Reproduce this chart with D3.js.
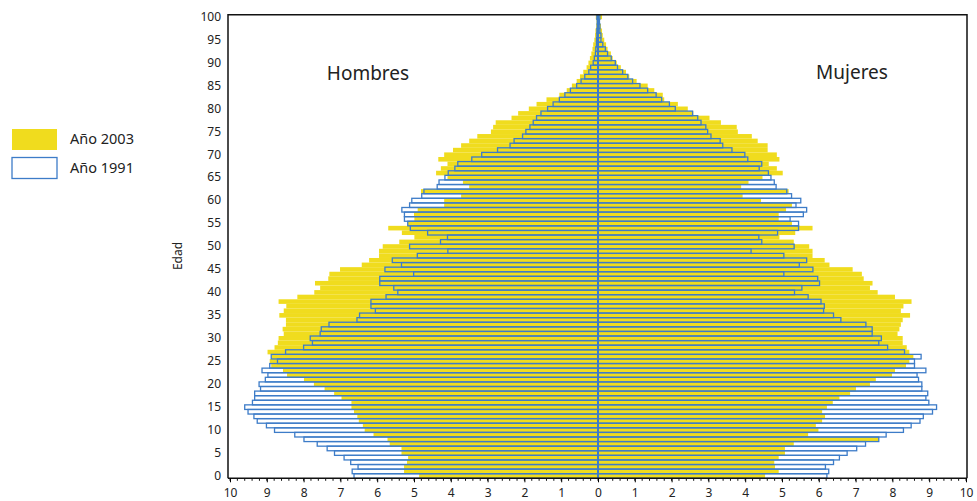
<!DOCTYPE html>
<html>
<head>
<meta charset="utf-8">
<script src="https://cdn.jsdelivr.net/npm/d3@7"></script>
<style>
  body { margin: 0; background: #fff; }
  svg { display: block; font-family: "Noto Sans", sans-serif; }
</style>
</head>
<body>
<div id="pyramid"></div>
<script>
// edades 0..100
var ages = d3.range(0, 101)

// Hombres, año 2003 (por mil)
var hombres2003 = [4.86,5.27,5.27,5.19,5.16,5.34,5.34,5.66,5.72,6.10,
  6.34,6.39,6.50,6.54,6.63,6.70,6.70,6.97,7.17,7.43,
  7.72,7.99,8.45,8.56,8.88,8.92,8.88,8.98,8.79,8.70,
  8.68,8.54,8.57,8.48,8.48,8.66,8.54,8.47,8.68,8.17,
  7.71,7.55,7.69,7.33,7.30,7.01,6.42,6.22,5.95,5.95,
  5.85,5.40,4.99,5.33,5.70,5.17,4.99,5.00,4.90,4.18,
  4.18,3.72,4.81,3.50,3.67,4.09,4.40,4.27,4.09,4.34,
  4.18,3.94,3.72,3.50,3.28,2.91,2.85,2.78,2.35,2.17,
  1.88,1.67,1.40,1.05,0.85,0.71,0.58,0.49,0.40,0.31,
  0.26,0.22,0.18,0.15,0.13,0.10,0.08,0.07,0.05,0.04,
  0.06]

// Hombres, año 1991
var hombres1991 = [6.63,6.68,6.52,6.72,6.90,7.16,7.36,7.63,7.99,8.24,
  8.79,9.01,9.26,9.35,9.51,9.60,9.39,9.33,9.33,9.17,
  9.21,9.04,8.97,9.13,8.92,8.71,8.88,8.49,8.00,7.76,
  7.82,7.55,7.52,7.31,6.55,6.48,6.05,6.17,6.17,5.76,
  5.44,5.55,5.93,5.93,5.01,5.79,5.34,5.59,4.91,4.08,
  5.12,4.28,4.09,4.63,5.10,5.17,5.26,5.26,5.33,5.12,
  5.06,4.79,4.73,4.37,4.32,4.16,4.07,3.89,3.81,3.43,
  3.16,2.73,2.39,2.28,2.05,1.96,1.85,1.76,1.67,1.55,
  1.37,1.22,1.05,0.90,0.75,0.58,0.46,0.36,0.25,0.20,
  0.13,0.10,0.07,0.06,0.04,0.04,0.03,0.03,0.02,0.02,
  0.03]

// Mujeres, año 2003
var mujeres2003 = [4.54,4.91,4.81,4.79,4.91,5.08,5.08,5.32,7.63,5.71,
  5.99,5.92,6.09,6.17,6.09,6.22,6.38,6.56,6.85,7.01,
  7.39,7.55,7.99,8.07,8.37,8.46,8.57,8.46,8.39,8.28,
  8.28,8.14,8.19,8.23,8.28,8.48,8.23,8.30,8.52,8.07,
  7.60,7.39,7.46,7.22,7.17,6.92,6.29,6.16,5.83,5.83,
  5.74,5.32,4.93,5.36,5.83,5.27,4.91,4.91,5.11,5.27,
  4.43,3.93,5.18,3.89,4.09,4.47,5.02,4.86,4.64,4.93,
  4.86,4.61,4.61,4.34,4.18,3.80,3.77,3.34,3.03,2.59,
  2.44,2.17,1.80,1.76,1.53,1.35,1.05,0.85,0.76,0.62,
  0.51,0.40,0.35,0.26,0.22,0.17,0.13,0.11,0.08,0.05,
  0.11]

// Mujeres, año 1991
var mujeres1991 = [6.22,6.27,6.18,6.40,6.56,6.77,7.03,7.27,7.63,7.83,
  8.30,8.51,8.75,8.84,9.09,9.20,8.99,8.91,8.96,8.80,
  8.80,8.71,8.67,8.91,8.60,8.60,8.78,8.33,7.87,7.63,
  7.70,7.45,7.45,7.28,6.60,6.40,6.13,6.15,6.06,5.71,
  5.34,5.54,6.02,5.97,5.05,5.84,5.47,5.67,5.05,4.16,
  5.33,4.45,4.37,4.88,5.45,5.45,5.22,5.58,5.67,5.38,
  5.51,5.26,5.13,4.84,4.79,4.70,4.63,4.38,4.45,4.07,
  3.99,3.64,3.39,3.32,3.07,2.98,2.93,2.80,2.71,2.57,
  2.10,1.94,1.73,1.58,1.35,1.14,0.94,0.81,0.67,0.53,
  0.47,0.36,0.26,0.20,0.13,0.08,0.08,0.05,0.05,0.04,
  0.05]

var xTicks = d3.range(-10, 11)
var ageTicks = ages.filter(function(a){ return a % 5 == 0 })

function piramide(){

var width = 977
var height = 501

var pLeft = 230, pRight = 966, pTop = 14.7, pBottom = 478.3
var mid = (pLeft + pRight) / 2

var yellow = "#f0dc1e"
var blue = "#3d7cc8"

var svg = d3.select("#pyramid")
  .append("svg")
  .attr("width", width)
  .attr("height", height)

var x = d3.scaleLinear().domain([-10, 10]).range([pLeft, pRight])
var xL = function(v){ return x(-v) }
var xR = function(v){ return x(v) }

var y = d3.scaleBand().domain(ages).range([pBottom, pTop]).padding(0)
var bh = y.bandwidth()

// barras 2003 (relleno amarillo)
svg.append("g").selectAll("rect")
  .data(ages)
  .enter()
  .append("rect")
  .attr("x", function(d){ return xL(hombres2003[d]) })
  .attr("y", function(d){ return y(d) })
  .attr("width", function(d){ return mid - xL(hombres2003[d]) })
  .attr("height", bh)
  .attr("fill", yellow)

svg.append("g").selectAll("rect")
  .data(ages)
  .enter()
  .append("rect")
  .attr("x", mid)
  .attr("y", function(d){ return y(d) })
  .attr("width", function(d){ return xR(mujeres2003[d]) - mid })
  .attr("height", bh)
  .attr("fill", yellow)

// barras 1991 (solo contorno azul)
svg.append("g").selectAll("rect")
  .data(ages)
  .enter()
  .append("rect")
  .attr("x", function(d){ return xL(hombres1991[d]) })
  .attr("y", function(d){ return y(d) })
  .attr("width", function(d){ return mid - xL(hombres1991[d]) })
  .attr("height", bh)
  .attr("fill", "none")
  .style("stroke", blue)
  .style("stroke-width", 1.3)

svg.append("g").selectAll("rect")
  .data(ages)
  .enter()
  .append("rect")
  .attr("x", mid)
  .attr("y", function(d){ return y(d) })
  .attr("width", function(d){ return xR(mujeres1991[d]) - mid })
  .attr("height", bh)
  .attr("fill", "none")
  .style("stroke", blue)
  .style("stroke-width", 1.3)

// linea central
svg.append("line")
  .attr("x1", mid).attr("x2", mid)
  .attr("y1", pTop).attr("y2", pBottom)
  .style("stroke", blue)
  .style("stroke-width", 2)

// marco
svg.append("path")
  .attr("d", "M" + (pLeft - 2) + "," + pBottom + "V" + pTop + "H" + (pRight + 1) + "V" + pBottom)
  .attr("fill", "none")
  .style("stroke", "#111")
  .style("stroke-width", 1.5)

// eje x: marcas menores cada 0.2
var minor = d3.range(-10, 10.001, 0.2)
svg.append("g").selectAll("line")
  .data(minor)
  .enter()
  .append("line")
  .attr("x1", function(d){ return x(d) }).attr("x2", function(d){ return x(d) })
  .attr("y1", pBottom).attr("y2", pBottom + 2.5)
  .style("stroke", "#111")

var xAxis = d3.axisBottom(x)
  .tickValues(xTicks)
  .tickSize(4)
  .tickPadding(6)
  .tickFormat(function(d){ return Math.abs(d) })

var gx = svg.append("g")
  .attr("transform", "translate(0," + pBottom + ")")
  .call(xAxis)
gx.select(".domain").attr("d", "M" + (pLeft - 2) + ",0H" + (pRight + 1)).style("stroke", "#111").style("stroke-width", 1.5)
gx.selectAll("text").style("font-size", "12px").style("fill", "#222").style("font-family", "Noto Sans")

// eje y: edades
var yAxis = d3.axisLeft(y)
  .tickValues(ageTicks)
  .tickSize(0)
  .tickPadding(8)

var gy = svg.append("g")
  .attr("transform", "translate(" + (pLeft - 1) + ",0)")
  .call(yAxis)
gy.select(".domain").remove()
gy.selectAll("text").style("font-size", "12px").style("fill", "#222").style("font-family", "Noto Sans")

svg.append("text")
  .attr("transform", "translate(182,256) rotate(-90)")
  .attr("text-anchor", "middle")
  .style("font-size", "12px")
  .style("fill", "#222")
  .text("Edad")

svg.append("text")
  .attr("x", 368).attr("y", 80)
  .attr("text-anchor", "middle")
  .style("font-size", "19px")
  .style("fill", "#222")
  .text("Hombres")

svg.append("text")
  .attr("x", 852).attr("y", 79)
  .attr("text-anchor", "middle")
  .style("font-size", "19px")
  .style("fill", "#222")
  .text("Mujeres")

// leyenda
var legend = [
  {label: "Año 2003", fill: yellow, stroke: "none"},
  {label: "Año 1991", fill: "#fff", stroke: blue}
]

var lg = svg.append("g").selectAll("g")
  .data(legend)
  .enter()
  .append("g")
  .attr("transform", function(d, i){ return "translate(12," + (129 + i * 28.5) + ")" })

lg.append("rect")
  .attr("width", 45)
  .attr("height", 21)
  .attr("fill", function(d){ return d.fill })
  .style("stroke", function(d){ return d.stroke })
  .style("stroke-width", 1.3)

lg.append("text")
  .attr("x", 58).attr("y", 15)
  .style("font-size", "14.5px")
  .style("fill", "#222")
  .text(function(d){ return d.label })
}

piramide()
</script>
</body>
</html>
